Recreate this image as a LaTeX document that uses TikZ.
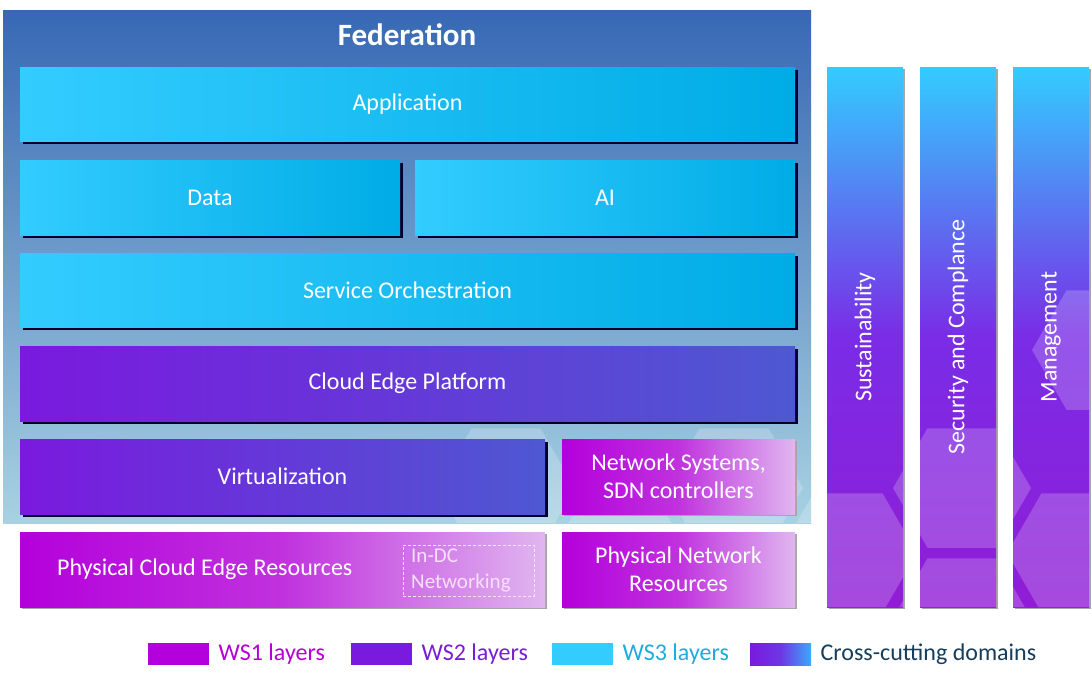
\documentclass[tikz,border=0pt]{standalone}
\usepackage{fontspec}
\setmainfont{Carlito}
\usetikzlibrary{positioning,shadows}

\definecolor{fedtop}{RGB}{55,104,180}
\definecolor{fedbot}{RGB}{168,210,226}
\definecolor{wsonea}{RGB}{180,0,220}
\definecolor{wsonem}{RGB}{192,50,222}
\definecolor{wsoneb}{RGB}{224,182,240}
\definecolor{wstwoa}{RGB}{122,26,222}
\definecolor{wstwob}{RGB}{78,88,210}
\definecolor{wsthreea}{RGB}{51,204,255}
\definecolor{wsthreeb}{RGB}{0,172,230}
\definecolor{barmid}{RGB}{122,44,230}
\definecolor{barbot}{RGB}{145,28,215}
\definecolor{crossblue}{RGB}{60,170,250}
\definecolor{crosstxt}{RGB}{22,62,92}
\definecolor{wsonetxt}{RGB}{180,0,210}
\definecolor{wstwotxt}{RGB}{120,30,212}
\definecolor{wsthreetxt}{RGB}{30,172,222}

\tikzset{
	layer/.style = {rectangle, inner sep = 0pt, outer sep = 0pt, anchor = north west, text = white, align = center, font = \fontsize{24}{28}\selectfont},
	darkshade/.style = {general shadow = {fill = black!75!blue!70!black, shadow xshift = 2.5pt, shadow yshift = -2.5pt}},
	greyshade/.style = {general shadow = {fill = black!35, shadow xshift = 2pt, shadow yshift = -2pt}},
	wsthree/.style = {layer, darkshade, left color = wsthreea, right color = wsthreeb},
	wstwo/.style = {layer, darkshade, left color = wstwoa, right color = wstwob},
	wsone/.style = {layer, greyshade, left color = wsonea, right color = wsoneb, middle color = wsonem},
	bar/.style = {layer, greyshade, minimum width = 76pt, minimum height = 540pt, top color = wsthreea, bottom color = barbot, middle color = barmid},
	bartext/.style = {rotate = 90, text = white, font = \fontsize{24}{28}\selectfont},
	keybox/.style = {rectangle, inner sep = 0pt, anchor = north west, minimum width = 61pt, minimum height = 22pt},
	keytext/.style = {right = 9pt of #1, inner sep = 0pt, font = \fontsize{24}{28}\selectfont}
}

\begin{document}
\begin{tikzpicture}[x = 1pt, y = -1pt]
	\useasboundingbox (0, 0) rectangle (1092, 697);
	\fill[white] (0, 0) rectangle (1092, 697);

	% federation frame
	\node[layer, top color = fedtop, bottom color = fedbot, minimum width = 808pt, minimum height = 513pt] (fed) at (3, 10) {};
		\node[text = white, font = \bfseries\fontsize{31}{36}\selectfont] (fedtitle) at (407, 35) {Federation};

	% cross-cutting domains
	\node[bar] (sus) at (827, 67) {};
	\node[bar] (sec) at (920, 67) {};
	\node[bar] (mgmt) at (1013, 67) {};

	\begin{scope}
		\clip (3, 10) rectangle (811, 523) (827, 67) rectangle (903, 607) (920, 67) rectangle (996, 607) (1013, 67) rectangle (1089, 607);
		\foreach \hx/\hy in {506/488, 734/488, 620/553, 848/553, 962/488, 962/618, 1076/553, 1101/350}
			\fill[white, opacity = 0.2] (\hx, \hy) +(0:69) -- +(60:69) -- +(120:69) -- +(180:69) -- +(240:69) -- +(300:69) -- cycle;
	\end{scope}

	\node[bartext] (sustxt) at (sus) {Sustainability};
	\node[bartext] (sectxt) at (sec) {Security and Complance};
	\node[bartext] (mgmttxt) at (mgmt) {Management};

	% layers
	\node[wsthree, minimum width = 775pt, minimum height = 74pt] (app) at (20, 67) {Application};
	\node[wsthree, minimum width = 380pt, minimum height = 75pt] (data) at (20, 160) {Data};
	\node[wsthree, minimum width = 380pt, minimum height = 75pt] (ai) at (415, 160) {AI};
	\node[wsthree, minimum width = 775pt, minimum height = 74pt] (orch) at (20, 253) {Service Orchestration};
	\node[wstwo, minimum width = 775pt, minimum height = 75pt] (cep) at (20, 346) {Cloud Edge Platform};
	\node[wstwo, minimum width = 525pt, minimum height = 75pt] (virt) at (20, 439) {Virtualization};
	\node[wsone, minimum width = 233pt, minimum height = 75pt] (netsys) at (562, 439) {Network Systems,\\SDN controllers};
	\node[wsone, minimum width = 525pt, minimum height = 75pt] (phys) at (20, 532) {};
		\node[anchor = west, inner sep = 0pt, text = white, font = \fontsize{24}{28}\selectfont] (physlbl) at ([xshift = 37pt]phys.west) {Physical Cloud Edge Resources};
	\node[draw = white!90!wsonea, dash pattern = on 3pt off 2pt, anchor = north west, minimum width = 131pt, minimum height = 51pt, inner xsep = 8pt, inner ysep = 0pt, text width = 115pt, align = left, text = white!88!wsonea, font = \fontsize{21}{26}\selectfont] (indc) at (403, 545) {In-DC\\Networking};
	\node[wsone, minimum width = 233pt, minimum height = 75pt] (physnet) at (562, 532) {Physical Network\\Resources};

	% legend
	\node[keybox, fill = wsonea] (keyone) at (148, 643) {};
		\node[keytext = keyone, text = wsonetxt] (lblone) {WS1 layers};
	\node[keybox, fill = wstwoa] (keytwo) at (351, 643) {};
		\node[keytext = keytwo, text = wstwotxt] (lbltwo) {WS2 layers};
	\node[keybox, fill = wsthreea] (keythree) at (552, 643) {};
		\node[keytext = keythree, text = wsthreetxt] (lblthree) {WS3 layers};
	\node[keybox, left color = wstwoa, right color = crossblue, middle color = wstwoa!80!crossblue] (keycross) at (750, 643) {};
		\node[keytext = keycross, text = crosstxt] (lblcross) {Cross-cutting domains};
\end{tikzpicture}
\end{document}
